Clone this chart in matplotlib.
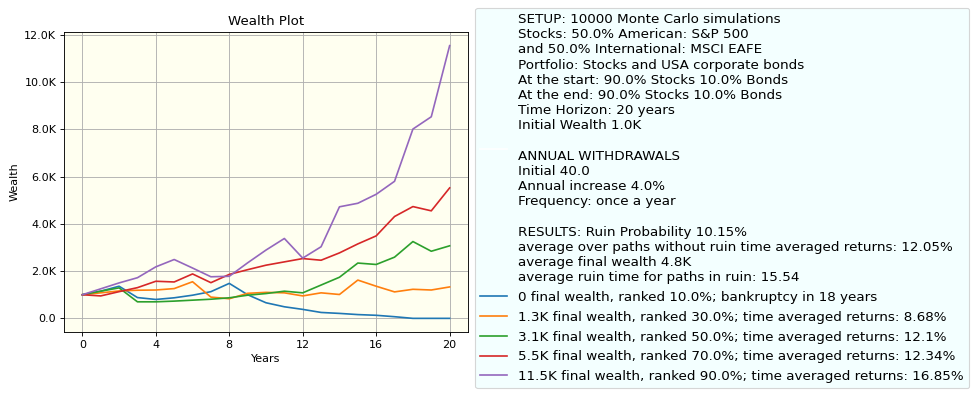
import matplotlib
matplotlib.use("Agg")
import matplotlib.pyplot as plt
from matplotlib.ticker import FuncFormatter, MultipleLocator

years = list(range(21))

# wealth paths in thousands
w_10 = [1.0, 1.15, 1.36, 0.88, 0.80, 0.87, 0.98, 1.13, 1.48, 1.0, 0.66,
        0.49, 0.38, 0.25, 0.21, 0.16, 0.13, 0.07, 0.0, 0.0, 0.0]
w_30 = [1.0, 1.08, 1.16, 1.19, 1.20, 1.26, 1.55, 0.90, 0.83, 1.06, 1.10,
        1.08, 0.95, 1.08, 1.01, 1.62, 1.36, 1.12, 1.23, 1.20, 1.33]
w_50 = [1.0, 1.15, 1.29, 0.70, 0.70, 0.73, 0.77, 0.81, 0.87, 0.98, 1.05,
        1.15, 1.08, 1.41, 1.74, 2.34, 2.28, 2.59, 3.25, 2.84, 3.07]
w_70 = [1.0, 0.95, 1.13, 1.30, 1.57, 1.54, 1.88, 1.51, 1.86, 2.06, 2.25,
        2.39, 2.53, 2.46, 2.77, 3.15, 3.49, 4.31, 4.73, 4.55, 5.52]
w_90 = [1.0, 1.25, 1.50, 1.72, 2.18, 2.49, 2.13, 1.76, 1.78, 2.35, 2.89,
        3.38, 2.55, 3.03, 4.72, 4.87, 5.25, 5.80, 8.01, 8.53, 11.54]

labels = [
    "0 final wealth, ranked 10.0%; bankruptcy in 18 years",
    "1.3K final wealth, ranked 30.0%; time averaged returns: 8.68%",
    "3.1K final wealth, ranked 50.0%; time averaged returns: 12.1%",
    "5.5K final wealth, ranked 70.0%; time averaged returns: 12.34%",
    "11.5K final wealth, ranked 90.0%; time averaged returns: 16.85%",
]

setup_text = ("SETUP: 10000 Monte Carlo simulations\n"
              "Stocks: 50.0% American: S&P 500\n"
              "and 50.0% International: MSCI EAFE\n"
              "Portfolio: Stocks and USA corporate bonds\n"
              "At the start: 90.0% Stocks 10.0% Bonds\n"
              "At the end: 90.0% Stocks 10.0% Bonds\n"
              "Time Horizon: 20 years\n"
              "Initial Wealth 1.0K\n"
              "\n"
              "ANNUAL WITHDRAWALS\n"
              "Initial 40.0\n"
              "Annual increase 4.0%\n"
              "Frequency: once a year\n"
              "\n"
              "RESULTS: Ruin Probability 10.15%\n"
              "average over paths without ruin time averaged returns: 12.05%\n"
              "average final wealth 4.8K\n"
              "average ruin time for paths in ruin: 15.54")

fig = plt.figure(figsize=(980 / 80, 399 / 80), dpi=80)
ax = fig.add_axes([64 / 980, 1 - 332 / 399, 404 / 980, 300 / 399])
ax.set_facecolor("ivory")

# invisible entry that carries the description in the legend
ax.plot([], [], color="white", label=setup_text)
for w, lab in zip([w_10, w_30, w_50, w_70, w_90], labels):
    ax.plot(years, [v * 1000 for v in w], label=lab)

ax.set_title("Wealth Plot")
ax.set_xlabel("Years")
ax.set_ylabel("Wealth")
ax.xaxis.set_major_locator(MultipleLocator(4))
ax.yaxis.set_major_formatter(FuncFormatter(
    lambda v, p: "0.0" if v == 0 else "{:.1f}K".format(v / 1000)))
ax.grid(True)

leg = fig.legend(loc="upper left", bbox_to_anchor=(475 / 980, 1 - 7.5 / 399),
                 borderaxespad=0, facecolor="azure", fontsize=12.15)
leg.get_texts()[0].set_linespacing(1.22)

fig.savefig("out.png", dpi=80)
